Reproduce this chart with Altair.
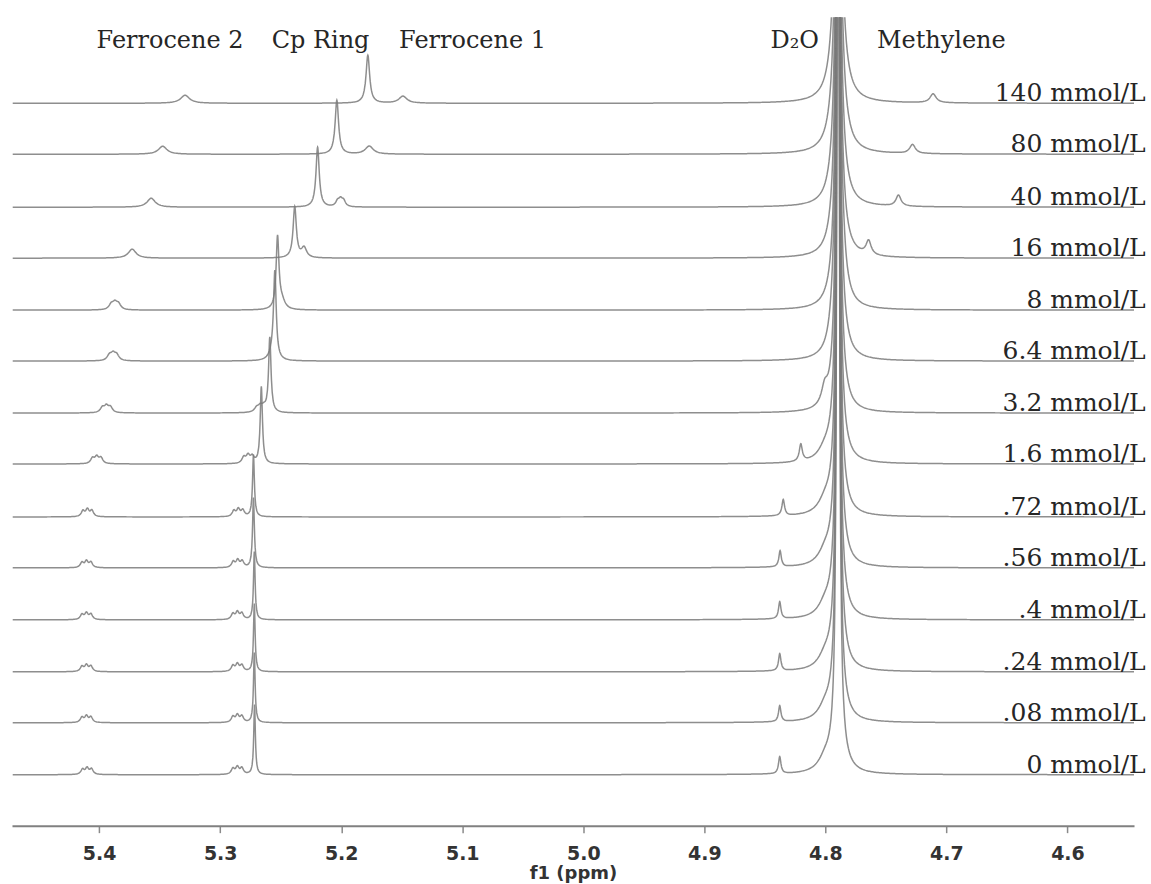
import numpy as np
import pandas as pd
import altair as alt

# ---------------- data ----------------
labels = ["140 mmol/L", "80 mmol/L", "40 mmol/L", "16 mmol/L", "8 mmol/L", "6.4 mmol/L",
          "3.2 mmol/L", "1.6 mmol/L", ".72 mmol/L", ".56 mmol/L", ".4 mmol/L",
          ".24 mmol/L", ".08 mmol/L", "0 mmol/L"]
# vertical offset of each trace (same units as intensity)
offsets = [723, 672, 619, 568, 516, 465, 413, 362, 309, 258, 206, 154, 103, 51]

# Ferrocene 2 multiplet
f2_ppm = [5.329, 5.3475, 5.357, 5.3727, 5.387, 5.3885, 5.394, 5.402, 5.4097, 5.4105, 5.4105, 5.4105, 5.4105, 5.4100]
f2_h = [8, 8, 9, 9, 10, 10, 9, 9, 9, 8, 8, 8, 8, 8]
f2_split = [0, 0, 0, 0, 0.0030, 0.0030, 0.0033, 0.0035, 0.0037, 0.0037, 0.0037, 0.0037, 0.0037, 0.0037]
f2_w = [0.0045, 0.0042, 0.0040, 0.0038, 0.0022, 0.0022, 0.0020, 0.0018, 0.0016, 0.0016, 0.0016, 0.0016, 0.0016, 0.0016]

# Cp ring singlet
cp_ppm = [5.178, 5.2036, 5.2195, 5.2384, 5.2526, 5.2548, 5.259, 5.266, 5.2725, 5.2725, 5.2718, 5.2718, 5.2718, 5.2716]
cp_h = [48, 54, 60, 51, 72, 85, 75, 77, 62, 70, 68, 68, 70, 70]
cp_w = [0.0018, 0.0017, 0.0016, 0.0016, 0.0014, 0.0013, 0.0012, 0.0011, 0.0009, 0.0009, 0.0008, 0.0008, 0.0008, 0.0008]

# Ferrocene 1 multiplet
f1_ppm = [5.149, 5.1768, 5.2005, 5.2307, 5.2490, 5.2565, 5.2669, 5.2770, 5.2850, 5.2855, 5.2858, 5.2858, 5.2858, 5.2858]
f1_h = [7, 8, 10, 10, 8, 8, 8, 10, 9, 9, 9, 9, 9, 9]
f1_split = [0, 0, 0.0025, 0, 0, 0, 0.0030, 0.0035, 0.0037, 0.0037, 0.0037, 0.0037, 0.0037, 0.0037]
f1_w = [0.0040, 0.0040, 0.0018, 0.0025, 0.0030, 0.0030, 0.0022, 0.0018, 0.0016, 0.0016, 0.0016, 0.0016, 0.0016, 0.0016]

# Methylene singlet
me_ppm = [4.711, 4.728, 4.7396, 4.7643, 4.786, 4.793, 4.8006, 4.8203, 4.8348, 4.8374, 4.8377, 4.8377, 4.8377, 4.8377]
me_h = [9, 9, 11, 14, 14, 14, 16, 17, 16, 16, 17, 17, 16, 17]
me_w = [0.0030, 0.0028, 0.0025, 0.0025, 0.0030, 0.0030, 0.0030, 0.0015, 0.0013, 0.0012, 0.0012, 0.0012, 0.0012, 0.0012]

# D2O (HDO) line: broad base + very tall narrow line (clipped at the top)
d2o_ppm = [4.7895] * 14
d2o_base_h = [150, 140, 120, 110, 100, 95, 85, 75, 70, 68, 65, 65, 63, 63]
d2o_base_w = 0.0043
d2o_spike_h = 2500
d2o_spike_w = 0.0006
# small hump on the low-field side of D2O
hump_ppm = 4.800
hump_h = [0, 0, 0, 0, 0, 0, 0, 10, 12, 12, 12, 12, 12, 12]
hump_w = 0.0066

top_labels = ["Ferrocene 2", "Cp Ring", "Ferrocene 1", "D\u2082O", "Methylene"]
top_label_ppm = [5.3414, 5.2171, 5.0915, 4.8253, 4.7042]
top_label_y = 778

tick_values = [5.4, 5.3, 5.2, 5.1, 5.0, 4.9, 4.8, 4.7, 4.6]
x_min, x_max = 4.545, 5.472
y_top = 809
label_ppm = 4.5354

# ---------------- build traces ----------------
def lor(x, c, w):
    return w * w / ((x - c) ** 2 + w * w)

def multiplet(x, c, h, split, w):
    weights = [0.85, 1.0, 0.8]
    def f(xx):
        return sum(wt * lor(xx, c + k * split, w) for wt, k in zip(weights, (-1, 0, 1)))
    fine = np.linspace(c - 0.02, c + 0.02, 8001)
    return h * f(x) / f(fine).max()

coarse = np.arange(x_min, x_max + 1e-9, 0.0008)
fine_off = np.array([-0.004, -0.003, -0.002, -0.0014, -0.001, -0.0007, -0.0004, -0.0002, 0,
                     0.0002, 0.0004, 0.0007, 0.001, 0.0014, 0.002, 0.003, 0.004])

rows = []
for i, lab in enumerate(labels):
    centers = [cp_ppm[i], me_ppm[i], d2o_ppm[i]]
    for c, s in ((f2_ppm[i], f2_split[i]), (f1_ppm[i], f1_split[i])):
        centers += [c - s, c, c + s]
    pts = [coarse]
    for c in centers:
        pts.append(c + fine_off)
    x = np.unique(np.round(np.concatenate(pts), 5))
    x = x[(x >= x_min) & (x <= x_max)]
    y = (multiplet(x, f2_ppm[i], f2_h[i], f2_split[i], f2_w[i])
         + multiplet(x, f1_ppm[i], f1_h[i], f1_split[i], f1_w[i])
         + cp_h[i] * lor(x, cp_ppm[i], cp_w[i])
         + me_h[i] * lor(x, me_ppm[i], me_w[i])
         + d2o_base_h[i] * lor(x, d2o_ppm[i], d2o_base_w)
         + d2o_spike_h * lor(x, d2o_ppm[i], d2o_spike_w)
         + hump_h[i] * lor(x, hump_ppm, hump_w))
    y = np.minimum(offsets[i] + y, y_top + 40)
    rows.append(pd.DataFrame({"ppm": x, "y": np.round(y, 2), "spectrum": lab}))
df = pd.concat(rows, ignore_index=True)

lab_df = pd.DataFrame({"label": labels, "x": [label_ppm] * len(labels),
                       "y": [o + 2 for o in offsets]})
top_df = pd.DataFrame({"label": top_labels, "x": top_label_ppm, "y": [top_label_y] * len(top_labels)})

# ---------------- chart ----------------
xscale = alt.Scale(domain=[x_min, x_max], reverse=True, nice=False, zero=False)
yscale = alt.Scale(domain=[0, y_top], nice=False, zero=False)
xaxis = alt.Axis(values=tick_values, format=".1f", grid=False,
                 labelFont="DejaVu Sans", labelFontWeight="bold", labelFontSize=19,
                 labelColor="#333333", labelPadding=12, labelFlush=False,
                 tickSize=7, tickColor="#8a8a8a", tickWidth=1.5,
                 domainColor="#808080", domainWidth=2,
                 title="f1 (ppm)", titleFont="DejaVu Sans", titleFontWeight="bold",
                 titleFontSize=18, titleColor="#333333", titlePadding=1)

lines = alt.Chart(df).mark_line(clip=True, color="#7a7a7a", strokeWidth=1.5, opacity=0.85).encode(
    x=alt.X("ppm:Q", scale=xscale, axis=xaxis),
    y=alt.Y("y:Q", scale=yscale, axis=None),
    detail="spectrum:N",
)

conc = alt.Chart(lab_df).mark_text(align="right", baseline="alphabetic", font="DejaVu Serif",
                                   fontSize=25, color="#262626").encode(
    x=alt.X("x:Q", scale=xscale, axis=xaxis),
    y=alt.Y("y:Q", scale=yscale, axis=None),
    text="label:N",
)

tops = alt.Chart(top_df).mark_text(align="center", baseline="alphabetic", font="DejaVu Serif",
                                   fontSize=24, color="#262626").encode(
    x=alt.X("x:Q", scale=xscale, axis=xaxis),
    y=alt.Y("y:Q", scale=yscale, axis=None),
    text="label:N",
)

chart = alt.layer(lines, conc, tops).properties(
    width=1123, height=809,
    padding={"left": 12, "top": 17, "right": 5, "bottom": 0},
    background="white",
).configure_view(stroke=None)

chart.save("out.html", embed_options={"renderer": "svg", "actions": False})
